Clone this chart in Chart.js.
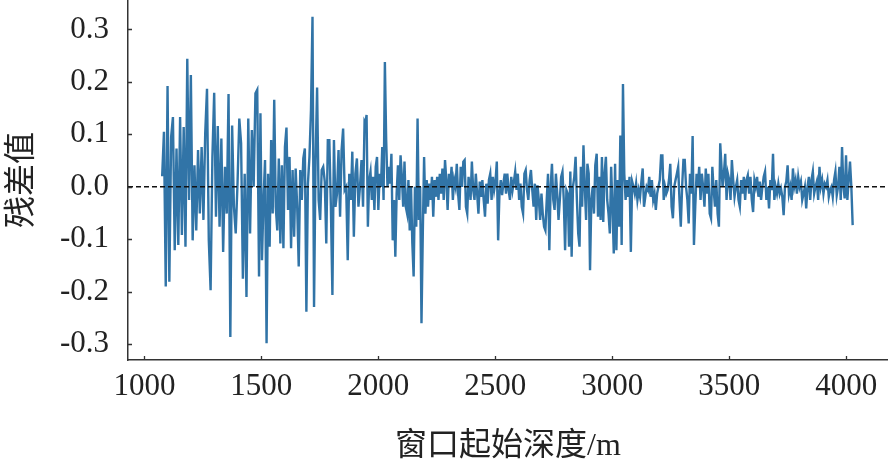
<!DOCTYPE html>
<html>
<head>
<meta charset="utf-8">
<script src="https://cdn.jsdelivr.net/npm/chart.js@4.4.0/dist/chart.umd.min.js"></script>
<style>
  html, body { margin: 0; padding: 0; background: #fff; }
  canvas { display: block; }
</style>
</head>
<body>
<canvas id="c" width="888" height="469"></canvas>
<script>
// ── DATOS: residuos leídos por tramos de profundidad ───────
var SEG_START = [1076, 1496, 1944, 2394, 2933, 3471];   // m
var SEG_END   = [1490, 1941, 2391, 2927, 3461, 4027];   // m

var RES_A = [0.020, 0.105, -0.190, 0.192, -0.181, 0.095, 0.133, -0.121, 0.073, -0.111, 0.133, -0.092,
  0.114, -0.114, 0.244, -0.025, 0.213, -0.102, 0.041, -0.083, 0.070, -0.051, 0.076, -0.063, 0.102, 0.187,
  -0.102, -0.197, 0.057, 0.179, -0.057, 0.116, -0.076, 0.092, -0.124, 0.038, -0.051, 0.177, -0.286, 0.117,
  -0.038, -0.089, 0.006, 0.130, 0.083, -0.175, 0.025, -0.210, 0.130, -0.089, 0.108, 0.000, 0.178, 0.185, -0.171];

var RES_B = [0.140, -0.140, -0.025, 0.051, -0.298, 0.025, -0.114, 0.089, -0.051, 0.166, -0.038, -0.083,
  0.054, -0.108, 0.041, -0.117, 0.076, 0.113, -0.044, 0.057, -0.117, 0.032, -0.095, 0.035, -0.038, -0.152,
  0.032, -0.025, 0.054, 0.073, -0.238, 0.006, 0.057, 0.146, 0.324, -0.229, 0.051, 0.189, -0.025, -0.063,
  0.032, 0.038, 0.010, -0.108, 0.089, 0.089, -0.038, -0.206, 0.089, -0.038, -0.013, 0.070, -0.057, 0.070,
  0.111, -0.006, 0.000, -0.140, 0.025, -0.025, 0.067, -0.095, 0.025, 0.054, -0.038, 0.000, 0.051, -0.038, 0.124];

var RES_C = [0.121, 0.137, -0.076, 0.013, 0.029, -0.025, 0.019, -0.044, 0.038, 0.057, -0.044, 0.025,
  0.000, 0.076, -0.025, 0.238, 0.089, 0.000, 0.038, 0.006, 0.063, -0.102, -0.025, -0.133, -0.013, 0.041,
  -0.025, 0.060, 0.019, -0.038, 0.048, -0.038, -0.051, 0.013, -0.083, 0.000, -0.108, -0.171, 0.000, -0.076,
  0.130, -0.063, 0.000, -0.260, -0.089, 0.057, -0.051, 0.013, -0.038, 0.006, -0.025, 0.019, -0.057, 0.013,
  -0.019, 0.019, -0.025, 0.025, -0.013, 0.035, -0.025, 0.051, 0.013, -0.044, 0.025, 0.000, 0.038, -0.025,
  0.013, 0.000, 0.044, -0.013, -0.044, 0.038, 0.000, 0.048, 0.051, -0.038, -0.051, 0.019, -0.006];

var RES_D = [-0.025, 0.048, -0.006, -0.025, 0.025, -0.013, -0.051, 0.010, -0.019, 0.013, -0.025, -0.057,
  0.006, -0.032, 0.013, 0.025, -0.025, 0.019, -0.006, 0.010, 0.048, -0.102, -0.013, 0.013, -0.016, 0.006,
  0.025, -0.013, 0.025, -0.006, -0.025, 0.019, -0.006, 0.010, 0.029, -0.006, 0.025, -0.025, 0.006, -0.038,
  -0.051, 0.025, 0.032, -0.006, -0.025, 0.013, 0.032, -0.006, -0.038, 0.006, -0.063, 0.003, -0.025, -0.063,
  -0.013, -0.051, -0.076, -0.083, -0.025, 0.025, -0.121, 0.000, 0.044, -0.025, -0.044, 0.025, -0.013, -0.063,
  -0.025, 0.019, 0.029, -0.025, -0.121, -0.006, -0.013, -0.114, 0.029, -0.133, 0.000, 0.019, 0.057, -0.025,
  -0.089, -0.114, 0.038, -0.038, 0.079, 0.000, -0.063, 0.044, 0.025, -0.159, -0.025, 0.000, -0.051, 0.041];

var RES_E = [0.063, -0.057, 0.019, -0.063, 0.057, -0.067, 0.025, 0.057, -0.025, -0.051, -0.089, 0.038,
  -0.038, -0.127, 0.044, -0.121, 0.013, -0.076, 0.098, -0.111, 0.196, 0.025, -0.025, 0.013, -0.019, 0.019,
  -0.124, 0.010, 0.000, -0.013, 0.006, -0.025, -0.006, -0.019, 0.010, 0.035, -0.038, -0.019, 0.000, -0.006,
  0.019, -0.019, 0.013, -0.025, -0.013, -0.044, -0.013, 0.000, 0.013, 0.060, 0.060, -0.025, 0.000, -0.013,
  -0.006, 0.013, 0.044, -0.038, -0.060, 0.000, 0.013, 0.025, 0.038, -0.025, -0.076, 0.000, 0.051, 0.051,
  0.000, -0.025, -0.070, 0.025, -0.013, 0.097, -0.111, -0.038, 0.025, 0.000, 0.038, -0.025, 0.025, 0.000,
  -0.038, 0.035, -0.013, 0.025, -0.051, -0.060, 0.038, -0.006, -0.038, 0.013, -0.051, -0.076, 0.083];

var RES_F = [0.000, 0.025, 0.063, -0.025, 0.025, 0.013, -0.025, 0.051, 0.013, -0.019, 0.000, 0.013,
  -0.025, -0.038, 0.013, -0.013, 0.019, -0.025, 0.013, 0.022, -0.013, 0.019, -0.025, -0.048, 0.013, 0.000,
  0.019, -0.019, 0.010, -0.025, 0.000, 0.019, 0.029, -0.025, 0.000, -0.041, 0.013, -0.006, 0.063, -0.025,
  0.000, -0.013, 0.006, -0.013, -0.003, -0.019, -0.054, 0.000, 0.010, 0.041, -0.013, 0.000, -0.025, 0.035,
  0.000, 0.013, -0.013, 0.019, 0.000, 0.010, -0.025, -0.013, 0.000, -0.041, 0.000, 0.019, -0.025, 0.013,
  0.029, -0.013, 0.000, 0.010, -0.025, 0.038, 0.000, 0.013, -0.013, 0.006, 0.000, 0.013, -0.019, -0.006,
  0.000, -0.019, 0.013, 0.029, -0.016, 0.000, 0.038, -0.025, 0.076, 0.000, -0.022, 0.060, -0.025, 0.013,
  0.048, 0.000, -0.073];

var SEGMENTS = [RES_A, RES_B, RES_C, RES_D, RES_E, RES_F];

var X_TICKS = [1000, 1500, 2000, 2500, 3000, 3500, 4000];
var Y_TICKS = [-0.3, -0.2, -0.1, 0.0, 0.1, 0.2, 0.3];

var X_TITLE = '窗口起始深度/m';
var Y_TITLE = '残差值';

// ── PUNTOS (profundidad, residuo) ─────────────────────────
function buildPoints() {
  var pts = [];
  SEGMENTS.forEach(function (vals, s) {
    var a = SEG_START[s], b = SEG_END[s], n = vals.length;
    vals.forEach(function (v, i) {
      pts.push({ x: a + (b - a) * i / (n - 1), y: v });
    });
  });
  return pts;
}

var SERIF = "'Liberation Serif', 'Times New Roman', 'Noto Sans CJK SC', serif";
var INK = '#222';

// marcas hacia dentro + línea de cero punteada
var innerTicks = {
  id: 'innerTicks',
  afterDatasetsDraw: function (chart) {
    var ctx = chart.ctx, a = chart.chartArea;
    var xs = chart.scales.x, ys = chart.scales.y;
    ctx.save();
    var y0 = ys.getPixelForValue(0);
    ctx.strokeStyle = '#111';
    ctx.lineWidth = 1.4;
    ctx.setLineDash([5, 3]);
    ctx.beginPath();
    ctx.moveTo(a.left, y0);
    ctx.lineTo(a.right, y0);
    ctx.stroke();
    ctx.setLineDash([]);
    ctx.strokeStyle = '#333';
    ctx.lineWidth = 1.3;
    ctx.beginPath();
    X_TICKS.forEach(function (v) {
      var px = Math.round(xs.getPixelForValue(v)) + 0.5;
      ctx.moveTo(px, a.bottom);
      ctx.lineTo(px, a.bottom - 4);
    });
    Y_TICKS.forEach(function (v) {
      var py = Math.round(ys.getPixelForValue(v)) + 0.5;
      ctx.moveTo(a.left, py);
      ctx.lineTo(a.left + 4, py);
    });
    ctx.stroke();
    ctx.restore();
  }
};

new Chart(document.getElementById('c').getContext('2d'), {
  type: 'line',
  data: {
    datasets: [{
      data: buildPoints(),
      borderColor: '#3174a7',
      borderWidth: 2.4,
      pointRadius: 0,
      tension: 0,
      fill: false
    }]
  },
  options: {
    responsive: false,
    animation: false,
    devicePixelRatio: 1,
    events: [],
    layout: { padding: 0 },
    plugins: { legend: { display: false }, tooltip: { enabled: false } },
    scales: {
      x: {
        type: 'linear',
        min: 930,
        max: 4178,
        grid: { display: false, drawTicks: false },
        border: { display: true, color: '#333', width: 1.5 },
        afterBuildTicks: function (s) { s.ticks = X_TICKS.map(function (v) { return { value: v }; }); },
        afterFit: function (s) { s.height = 109; s.paddingLeft = 0; s.paddingRight = 0; },
        ticks: {
          padding: 8,
          maxRotation: 0,
          autoSkip: false,
          color: INK,
          font: { family: SERIF, size: 31 },
          callback: function (v) { return String(v); }
        },
        title: {
          display: true,
          text: X_TITLE,
          color: INK,
          padding: { top: 0, bottom: 3 },
          font: { family: SERIF, size: 32 }
        }
      },
      y: {
        min: -0.33,
        max: 0.356,
        grid: { display: false, drawTicks: false },
        border: { display: true, color: '#333', width: 1.5 },
        afterBuildTicks: function (s) { s.ticks = Y_TICKS.map(function (v) { return { value: v }; }); },
        afterFit: function (s) { s.width = 128; s.paddingTop = 0; s.paddingBottom = 0; },
        ticks: {
          padding: 19,
          autoSkip: false,
          color: INK,
          font: { family: SERIF, size: 31 },
          callback: function (v) { return Number(v).toFixed(1); }
        },
        title: {
          display: true,
          text: Y_TITLE,
          color: INK,
          padding: { top: 3, bottom: 0 },
          font: { family: SERIF, size: 32 }
        }
      }
    }
  },
  plugins: [innerTicks]
});
</script>
</body>
</html>
